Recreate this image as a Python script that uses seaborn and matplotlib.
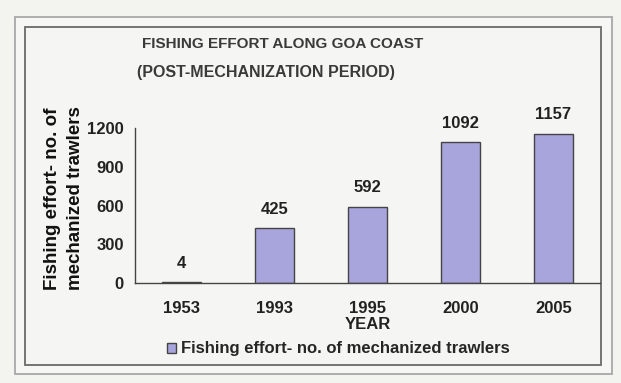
import matplotlib
matplotlib.use("Agg")
import matplotlib.pyplot as plt
import seaborn as sns
import pandas as pd
import numpy as np
from matplotlib.patches import Rectangle, Patch

years = ["1953", "1993", "1995", "2000", "2005"]
trawlers = [4, 425, 592, 1092, 1157]
yticks = [0, 300, 600, 900, 1200]

sns.set_theme(style="white")
plt.rcParams['font.family'] = ['Liberation Sans', 'DejaVu Sans']
plt.rcParams['font.weight'] = 'bold'

df = pd.DataFrame({"YEAR": years, "value": trawlers})

fig = plt.figure(figsize=(6.21, 3.83), dpi=100)
fig.patch.set_facecolor("#f3f3f0")
# outer and inner frames
fig.patches.append(Rectangle((15/621, 1-374/383), (612-15)/621, (374-17)/383, transform=fig.transFigure,
                             fill=True, facecolor="#f6f6f4", edgecolor="#a8a8a8", lw=1.3, zorder=-10))
fig.patches.append(Rectangle((25/621, 1-365/383), (601-25)/621, (365-27)/383, transform=fig.transFigure,
                             fill=True, facecolor="#f5f5f3", edgecolor="#6a6a6a", lw=1.3, zorder=-9))

ax = fig.add_axes([135/621, 1-283/383, (600-135)/621, (283-128)/383])
ax.set_facecolor("none")
sns.barplot(data=df, x="YEAR", y="value", color="#a8a5dc", edgecolor="#444444", linewidth=1.0,
            width=0.42, saturation=1, ax=ax)
ax.set_ylim(0, 1200)
ax.set_xlim(-0.5, len(years) - 0.5)
ax.set_yticks(yticks)
ax.set_yticklabels([str(t) for t in yticks], fontsize=12, fontweight='bold', color="#222222")
ax.set_xticks(range(len(years)))
ax.set_xticklabels(years, fontsize=12, fontweight='bold', color="#222222")
ax.set_xticks(np.arange(0.5, len(years) - 0.5, 1), minor=True)
ax.tick_params(axis='x', which='major', length=0, pad=13)
ax.tick_params(axis='x', which='minor', length=3, width=1, color="#555555", direction='out')
ax.tick_params(axis='y', length=4, width=1, color="#555555", direction='out', pad=4)
for s in ["top", "right"]:
    ax.spines[s].set_visible(False)
for s in ["left", "bottom"]:
    ax.spines[s].set_color("#444444")
    ax.spines[s].set_linewidth(1.0)

for i, v in enumerate(trawlers):
    ax.annotate(str(v), (i, v), xytext=(0, 8), textcoords="offset points", ha="center", va="bottom",
                fontsize=12, fontweight='bold', color="#222222")

ax.set_xlabel("YEAR", fontsize=12, fontweight='bold', color="#222222", labelpad=1)
ax.set_ylabel("Fishing effort- no. of\nmechanized trawlers", fontsize=13.5, fontweight='bold',
              color="#111111", linespacing=1.45, multialignment='left')
ax.yaxis.set_label_coords(-0.11, 0.545)

fig.text(283/621, 1-44/383, "FISHING EFFORT ALONG GOA COAST", ha="center", va="center",
         fontsize=11, fontweight='bold', color="#3a3a3a")
fig.text(137/621, 1-72/383, "(POST-MECHANIZATION PERIOD)", ha="left", va="center",
         fontsize=11.5, fontweight='bold', color="#3a3a3a")

handle = Patch(facecolor="#a8a5dc", edgecolor="#444444")
fig.legend([handle], ["Fishing effort- no. of mechanized trawlers"], loc="center",
           bbox_to_anchor=(338/621, 1-349/383), frameon=False,
           prop={'weight': 'bold', 'size': 12}, handlelength=0.55, handleheight=0.55, handletextpad=0.3)

fig.savefig("out.png", dpi=100)
